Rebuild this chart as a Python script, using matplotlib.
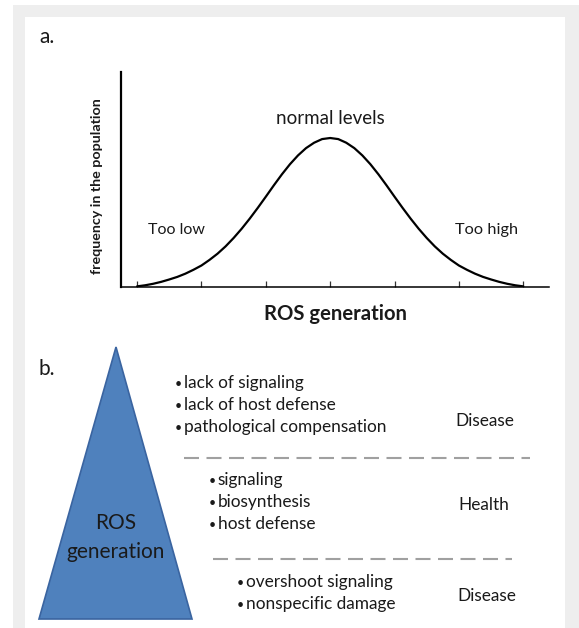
import matplotlib
matplotlib.use('Agg')
import matplotlib.pyplot as plt
from matplotlib.patches import Rectangle, Polygon

plt.rcParams['font.family'] = ['Lato', 'DejaVu Sans']

# panel a: bell curve
# x in tick steps (0 = first tick), y as share of the axis height
half_y = [0.003, 0.008, 0.015, 0.024, 0.035, 0.047, 0.062, 0.080, 0.100, 0.126, 0.155, 0.189,
          0.228, 0.271, 0.318, 0.368, 0.420, 0.473, 0.524, 0.571, 0.612, 0.646, 0.671, 0.688]
peak_y = 0.693
freq_y = half_y + [peak_y] + half_y[::-1]
ros_x = [i * 0.125 for i in range(len(freq_y))]
tick_pos = [0, 1, 2, 3, 4, 5, 6]

# panel b: text blocks
low_items = ['lack of signaling', 'lack of host defense', 'pathological compensation']
mid_items = ['signaling', 'biosynthesis', 'host defense']
high_items = ['overshoot signaling', 'nonspecific damage']
zone_labels = ['Disease', 'Health', 'Disease']

W, H = 579, 628
fig = plt.figure(figsize=(W / 100, H / 100), dpi=100, facecolor='white')

# overlay in pixel units for the frame and panel b
ov = fig.add_axes([0, 0, 1, 1], zorder=0)
ov.set_xlim(0, W)
ov.set_ylim(H, 0)
ov.axis('off')
ov.add_patch(Rectangle((13, 5), W - 13, H - 5, color='#eeeeee', lw=0))
ov.add_patch(Rectangle((25, 17), 565 - 25, H - 17, color='white', lw=0))

txt = '#1a1a1a'
ov.text(39, 37, 'a.', fontsize=15, color=txt, va='center', ha='left')
ov.text(39, 369, 'b.', fontsize=15, color=txt, va='center', ha='left')

# panel a axes
ax = fig.add_axes([121 / W, 1 - 287 / H, (549 - 121) / W, 215 / H], zorder=1)
ax.patch.set_alpha(0)
ax.plot(ros_x, freq_y, color='black', lw=1.6, solid_capstyle='round')
ax.set_xlim(-0.25, 6.4)
ax.set_ylim(0, 1)
ax.set_xticks(tick_pos)
ax.set_xticklabels([])
ax.set_yticks([])
ax.tick_params(axis='x', direction='in', length=4.5, width=0.9, color='#333333')
for s in ['top', 'right']:
    ax.spines[s].set_visible(False)
ax.spines['left'].set_linewidth(1.6)
ax.spines['bottom'].set_linewidth(1.1)

ax.text(3, 0.785, 'normal levels', fontsize=13.5, color=txt, ha='center', va='center')
ax.text(0.61, 0.265, 'Too low', fontsize=11.5, color=txt, ha='center', va='center')
ax.text(5.43, 0.265, 'Too high', fontsize=11.8, color=txt, ha='center', va='center')
ax.set_ylabel('frequency in the population', fontsize=10.3, fontweight='bold', color=txt)
ax.yaxis.set_label_coords(-0.042, 0.47)
ax.set_xlabel('ROS generation', fontsize=14.6, fontweight='bold', color=txt, labelpad=9)

# panel b triangle
ov.add_patch(Polygon([(39, 619), (192, 619), (116, 347)], closed=True,
                     facecolor='#4f81bd', edgecolor='#3a64a0', lw=1.2))
ov.text(116, 523, 'ROS', fontsize=15, color=txt, ha='center', va='center')
ov.text(116, 552, 'generation', fontsize=15, color=txt, ha='center', va='center')

# bullet groups
groups = [(low_items, 175, 383), (mid_items, 209, 480), (high_items, 237, 582)]
for items, x0, y0 in groups:
    for i, item in enumerate(items):
        y = y0 + i * 22
        ov.text(x0, y + 1, '\u2022', fontsize=9, color=txt, ha='left', va='center')
        ov.text(x0 + 8.5, y, item, fontsize=12.4, color=txt, ha='left', va='center')

for lab, (x, y) in zip(zone_labels, [(485, 421), (484, 505), (487, 596)]):
    ov.text(x, y, lab, fontsize=12.4, color=txt, ha='center', va='center')

# dashed separators
ov.plot([184, 530], [458, 458], color='#a0a0a0', lw=1.5, linestyle=(0, (7.2, 3.6)))
ov.plot([213, 512], [559, 559], color='#a0a0a0', lw=1.5, linestyle=(0, (7.2, 3.6)))

fig.savefig('out.png', dpi=100, facecolor=fig.get_facecolor())
